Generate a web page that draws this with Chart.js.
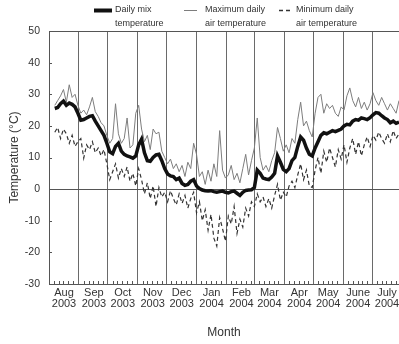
<!DOCTYPE html>
<html>
<head>
<meta charset="utf-8">
<script src="https://cdn.jsdelivr.net/npm/chart.js@4"></script>
<style>
  body { margin: 0; background: #fff; }
  canvas { display: block; }
</style>
</head>
<body>
<canvas id="tempChart" width="399" height="344"></canvas>
<script>
// month boundaries, in days counted from 1 Aug 2003
const monthStarts = [0, 31, 61, 92, 122, 153, 184, 213, 244, 274, 305, 335];
const monthNames = ['Aug', 'Sep', 'Oct', 'Nov', 'Dec', 'Jan', 'Feb', 'Mar', 'Apr', 'May', 'June', 'July'];
const monthYears = ['2003', '2003', '2003', '2003', '2003', '2004', '2004', '2004', '2004', '2004', '2004', '2004'];
const yTicks = [-30, -20, -10, 0, 10, 20, 30, 40, 50];
const minorTickDays = [5, 10, 15, 20, 25];

const seriesLabels = [
  ['Daily mix', 'temperature'],
  ['Maximum daily', 'air temperature'],
  ['Minimum daily', 'air temperature'],
];

// readings every 3 days, starting 7 Aug 2003 (day 6)
const firstDay = 6;
const dayStep = 3;

const mixTemp = [
  25.5, 25.8, 27.0, 27.8, 26.5, 27.2, 26.8, 26.0, 24.0, 21.8,
  22.0, 22.5, 23.0, 23.2, 21.5, 20.0, 18.5, 17.0, 14.5, 11.8,
  11.2, 13.5, 14.5, 12.0, 11.0, 10.5, 10.2, 9.8, 10.5, 14.0,
  15.8, 11.5, 9.0, 8.8, 10.0, 10.8, 11.0, 9.0, 6.5, 4.8,
  4.2, 4.0, 3.0, 3.5, 1.8, 1.2, 1.5, 2.5, 3.0, 1.0,
  0.2, -0.3, -0.5, -0.6, -0.5, -0.8, -1.0, -0.8, -0.6, -1.0,
  -1.2, -0.8, -0.6, -1.3, -2.0, -1.0, -0.4, -0.3, -0.2, 0.5,
  6.0, 5.0, 3.5, 3.2, 3.0, 3.8, 5.0, 10.5, 8.5, 6.2,
  5.5, 6.5, 9.0, 10.0, 13.5, 16.5, 15.5, 13.0, 11.0, 10.5,
  13.0, 15.0, 17.0, 17.8, 17.5, 18.0, 18.5, 18.2, 18.6, 19.0,
  20.0, 20.5, 20.3, 21.5, 22.0, 21.8, 22.5, 22.3, 22.0, 22.6,
  23.5, 24.2, 24.0, 23.2, 22.5, 22.0, 21.0, 21.5, 20.8, 21.2,
];

const maxTemp = [
  26.5, 28.0, 29.5, 31.5, 27.5, 33.0, 29.0, 30.0, 26.5, 24.0,
  25.0, 23.5, 26.0, 29.0, 24.5, 23.0, 21.0, 20.0, 17.0, 14.5,
  16.0, 27.0, 17.5, 14.5, 16.0, 22.5, 13.0, 14.0, 24.0, 26.5,
  19.0, 15.0, 17.0, 12.5, 19.0, 17.5, 18.0, 12.0, 10.0, 8.0,
  9.5, 6.5, 8.0, 5.5, 7.5, 4.0, 8.5, 6.5, 14.5, 11.0,
  4.0, 5.5, 1.5, 6.0, 2.5, 8.0, 4.0, 18.5, 6.0, 3.5,
  4.5, 7.5, 3.0, 5.0, 2.0, 6.5, 11.0, 4.5, 9.0, 13.0,
  22.5, 10.0, 6.0, 7.5, 5.5, 9.0, 11.5, 19.5, 16.0, 12.0,
  14.0, 11.5, 16.0, 14.5, 22.0, 27.5, 20.0, 21.5, 18.5, 16.5,
  24.0, 29.0, 30.0, 24.0, 27.0, 25.5, 26.5, 24.0, 23.0, 26.0,
  25.0, 29.5, 32.0, 28.0, 26.0, 29.0, 25.5, 27.5, 25.0, 27.0,
  30.5, 28.0, 26.5, 29.0, 27.0, 25.0, 27.0, 25.5, 24.0, 28.0,
];

const minTemp = [
  18.0, 19.5, 16.0, 19.0, 17.5, 14.5, 17.0, 13.5, 15.0, 16.0,
  9.8, 14.0, 12.5, 15.0, 11.5, 13.0, 10.5, 12.5, 8.0, 3.0,
  5.5, 8.0, 3.5, 6.5, 4.0, 7.0, 2.5, 5.0, 1.0, 6.5,
  3.0, -1.5, 2.0, -3.0, 1.0, -5.5, 0.5, -2.5, -1.0, -4.0,
  -0.5, -3.0, -5.0, -1.5, -4.5, -2.0, -6.0, -3.0, -1.0, -7.5,
  -4.0, -10.0, -6.5, -13.0, -8.0, -15.5, -18.0, -9.0, -12.5, -16.5,
  -8.5, -11.0, -5.5, -14.0, -9.5, -12.0, -6.0, -8.5, -4.0, -5.5,
  -1.5, -4.0, -2.5, -5.5, -3.0, -6.0, -2.0, 1.5, -3.5, -1.0,
  -2.5, 1.0, 2.5, 0.5, 4.5, 8.0, 3.0, 6.0, 1.0, 0.5,
  6.0, 10.0, 5.0, 12.0, 8.5, 13.0, 10.0, 7.0, 12.5, 9.5,
  14.0, 8.5, 13.0, 16.0, 11.0, 15.0, 10.5, 14.0, 16.5, 13.5,
  17.0, 15.5, 18.0, 16.0, 14.5, 17.5, 15.0, 18.5, 16.0, 17.5,
];

const sampleDays = mixTemp.map((_, i) => firstDay + i * dayStep);
const toPoints = (values) => values.map((v, i) => ({ x: sampleDays[i], y: v }));

Chart.defaults.font.family = "'Liberation Sans', Arial, sans-serif";
Chart.defaults.color = '#333';

// small inside tick marks plus the two-line legend across the top
const decorPlugin = {
  id: 'decor',
  afterDraw(chart) {
    const ctx = chart.ctx;
    const xs = chart.scales.x;
    const ys = chart.scales.y;
    const area = chart.chartArea;
    ctx.save();
    ctx.strokeStyle = '#555';
    ctx.lineWidth = 1;
    ctx.beginPath();
    monthStarts.forEach((m) => {
      minorTickDays.forEach((o) => {
        const d = m + o;
        if (d > xs.max) return;
        const px = Math.round(xs.getPixelForValue(d)) + 0.5;
        ctx.moveTo(px, area.bottom);
        ctx.lineTo(px, area.bottom - 3);
      });
    });
    yTicks.forEach((v) => {
      const py = Math.round(ys.getPixelForValue(v)) + 0.5;
      ctx.moveTo(area.left, py);
      ctx.lineTo(area.left + 3, py);
    });
    ctx.stroke();

    const slots = [
      { x0: 94, x1: 112, tx: 115 },
      { x0: 184, x1: 197, tx: 205 },
      { x0: 279, x1: 292, tx: 296 },
    ];
    ctx.font = "9px 'Liberation Sans', Arial, sans-serif";
    ctx.fillStyle = '#333';
    ctx.textBaseline = 'middle';
    chart.data.datasets.forEach((ds, i) => {
      const s = slots[i];
      ctx.beginPath();
      ctx.strokeStyle = ds.borderColor;
      ctx.lineWidth = i === 0 ? 4 : (i === 2 ? 1.5 : 1);
      ctx.setLineDash(i === 2 ? [4, 3] : []);
      ctx.moveTo(s.x0, 10.5);
      ctx.lineTo(s.x1, 10.5);
      ctx.stroke();
      ctx.setLineDash([]);
      seriesLabels[i].forEach((line, j) => {
        ctx.fillText(line, s.tx, 10 + j * 14);
      });
    });
    ctx.restore();
  },
};

const ctx = document.getElementById('tempChart').getContext('2d');
const chart = new Chart(ctx, {
  type: 'line',
  data: {
    datasets: [
      {
        label: seriesLabels[0].join(' '),
        data: toPoints(mixTemp),
        borderColor: '#111',
        borderWidth: 3.5,
        pointRadius: 0,
        order: 0,
      },
      {
        label: seriesLabels[1].join(' '),
        data: toPoints(maxTemp),
        borderColor: '#7d7d7d',
        borderWidth: 1,
        pointRadius: 0,
        order: 1,
      },
      {
        label: seriesLabels[2].join(' '),
        data: toPoints(minTemp),
        borderColor: '#333',
        borderWidth: 1.2,
        borderDash: [4, 3],
        pointRadius: 0,
        order: 2,
      },
    ],
  },
  options: {
    responsive: false,
    animation: false,
    devicePixelRatio: 1,
    layout: { padding: { top: 31, right: 0, left: 0, bottom: 0 } },
    plugins: {
      legend: { display: false },
      tooltip: { enabled: false },
    },
    scales: {
      x: {
        type: 'linear',
        min: 0,
        max: 363,
        afterBuildTicks: (scale) => {
          scale.ticks = monthStarts.map((v) => ({ value: v }));
        },
        afterFit: (scale) => {
          scale.height = 60;
        },
        ticks: {
          autoSkip: false,
          maxRotation: 0,
          labelOffset: 15,
          padding: 3,
          font: { size: 11, lineHeight: 1.0 },
          callback: (value) => {
            const i = monthStarts.indexOf(value);
            return i < 0 ? '' : [monthNames[i], monthYears[i]];
          },
        },
        grid: {
          color: '#6a6a6a',
          drawTicks: false,
        },
        border: { color: '#555' },
        title: {
          display: true,
          text: 'Month',
          font: { size: 12 },
          padding: { top: 0, bottom: 4 },
        },
      },
      y: {
        min: -30,
        max: 50,
        afterFit: (scale) => {
          scale.width = 49;
        },
        ticks: {
          stepSize: 10,
          padding: 9,
          font: { size: 10.5 },
        },
        grid: {
          drawTicks: false,
          color: (c) => (c.tick && (c.tick.value === 0 || c.tick.value === 50) ? '#555' : 'rgba(0,0,0,0)'),
        },
        border: { color: '#555' },
        title: {
          display: true,
          text: 'Temperature (°C)',
          font: { size: 12 },
          padding: { top: 7, bottom: 0 },
        },
      },
    },
  },
  plugins: [decorPlugin],
});
</script>
</body>
</html>
